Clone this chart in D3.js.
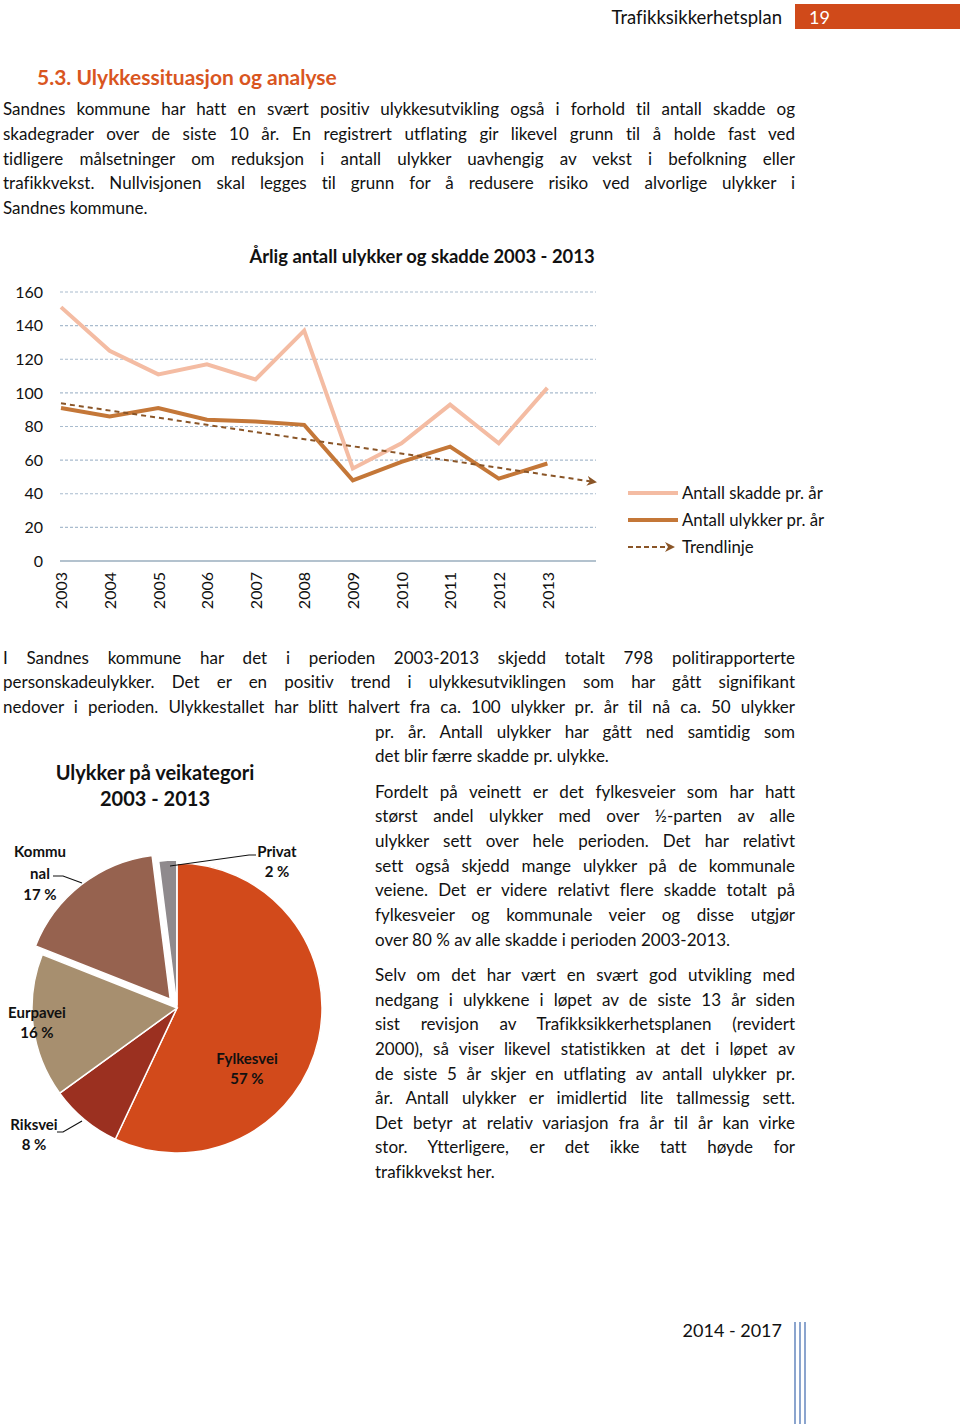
<!DOCTYPE html>
<html>
<head>
<meta charset="utf-8">
<script src="https://cdn.jsdelivr.net/npm/d3@7"></script>
<style>
  html, body { margin: 0; padding: 0; background: #fff; }
  body { width: 960px; height: 1424px; position: relative; overflow: hidden; font-family: "Lato", "Open Sans", sans-serif; color: #111; font-variant-ligatures: none; }
  svg { position: absolute; left: 0; top: 0; font-variant-ligatures: none; }
  .line { position: absolute; white-space: nowrap; font-size: 17px; height: 25px; line-height: 25px; text-align: justify; text-align-last: justify; }
  .line.last { text-align: left; text-align-last: left; }
</style>
</head>
<body>
<svg id="page" width="960" height="1424"></svg>
<script>
// ---------- data ----------
const years = [2003, 2004, 2005, 2006, 2007, 2008, 2009, 2010, 2011, 2012, 2013];
const skadde = [151, 125, 111, 117, 108, 137, 55, 70, 93, 70, 103];
const ulykker = [91, 86, 91, 84, 83, 81, 48, 59, 68, 49, 58];
const yTicks = [0, 20, 40, 60, 80, 100, 120, 140, 160];
const lineSeriesNames = ["Antall skadde pr. år", "Antall ulykker pr. år", "Trendlinje"];

const pieCategories = ["Fylkesvei", "Riksvei", "Eurpavei", "Kommunal", "Privat"];
const pieValues = [57, 8, 16, 17, 2];

// ---------- text ----------
const para1 = [
  "Sandnes kommune har hatt en svært positiv ulykkesutvikling også i forhold til antall skadde og",
  "skadegrader over de siste 10 år. En registrert utflating gir likevel grunn til å holde fast ved",
  "tidligere målsetninger om reduksjon i antall ulykker uavhengig av vekst i befolkning eller",
  "trafikkvekst. Nullvisjonen skal legges til grunn for å redusere risiko ved alvorlige ulykker i",
  "Sandnes kommune."
];
const para2full = [
  "I Sandnes kommune har det i perioden 2003-2013 skjedd totalt 798 politirapporterte",
  "personskadeulykker. Det er en positiv trend i ulykkesutviklingen som har gått signifikant",
  "nedover i perioden. Ulykkestallet har blitt halvert fra ca. 100 ulykker pr. år til nå ca. 50 ulykker"
];
const para2col = [
  "pr. år.  Antall ulykker har gått ned samtidig som",
  "det blir færre skadde pr. ulykke."
];
const para3 = [
  "Fordelt på veinett er det fylkesveier som har hatt",
  "størst andel ulykker med over ½-parten av alle",
  "ulykker sett over hele perioden. Det har relativt",
  "sett også skjedd mange ulykker på de kommunale",
  "veiene. Det er videre relativt flere skadde totalt på",
  "fylkesveier og kommunale veier og disse utgjør",
  "over 80 % av alle skadde i perioden 2003-2013."
];
const para4 = [
  "Selv om det har vært en svært god utvikling med",
  "nedgang i ulykkene i løpet av de siste 13 år siden",
  "sist revisjon av Trafikksikkerhetsplanen (revidert",
  "2000), så viser likevel statistikken at det i løpet av",
  "de siste 5 år skjer en utflating av antall ulykker pr.",
  "år. Antall ulykker er imidlertid lite tallmessig sett.",
  "Det betyr at relativ variasjon fra år til år kan virke",
  "stor. Ytterligere, er det ikke tatt høyde for",
  "trafikkvekst her."
];

function addLines(lines, left, right, centers, lastIsLeft) {
  lines.forEach((t, i) => {
    const d = d3.select("body").append("div")
      .attr("class", "line" + (lastIsLeft && i === lines.length - 1 ? " last" : ""))
      .style("left", left + "px")
      .style("top", (centers[i] - 12.5) + "px")
      .style("width", (right - left) + "px")
      .text(t);
    const probe = d3.select("body").append("span").style("font-size", "17px").style("white-space", "nowrap")
      .style("position", "absolute").style("visibility", "hidden").text(t);
    const w = probe.node().getBoundingClientRect().width;
    probe.remove();
    if (w > right - left) {
      const ls = (right - left - w) / t.length;
      d.style("letter-spacing", ls + "px");
    }
  });
}
addLines(para1, 3, 795, [108, 133, 158, 182, 207], true);
addLines(para2full, 3, 795, [657, 681, 706], false);
addLines(para2col, 375, 795, [731, 755], true);
addLines(para3, 375, 795, [791, 815, 840, 865, 889, 914, 939], true);
addLines(para4, 375, 795, [974, 999, 1023, 1048, 1073, 1097, 1122, 1146, 1171], true);

const svg = d3.select("#page");

// ---------- header ----------
svg.append("text").attr("x", 782).attr("y", 24).attr("text-anchor", "end")
  .attr("font-size", 18.5).attr("fill", "#111").text("Trafikksikkerhetsplan");
svg.append("rect").attr("x", 795).attr("y", 4).attr("width", 165).attr("height", 25).attr("fill", "#D04A1A");
svg.append("text").attr("x", 809).attr("y", 24).attr("font-size", 18).attr("fill", "#fff").text("19");

svg.append("text").attr("x", 37).attr("y", 85).attr("font-size", 21).attr("font-weight", "bold")
  .attr("fill", "#D9561F").text("5.3. Ulykkessituasjon og analyse");

// ---------- line chart ----------
const x = d3.scaleLinear().domain([2003, 2014]).range([61, 596]);
const y = d3.scaleLinear().domain([0, 160]).range([561, 292]);

const lc = svg.append("g");
lc.append("text").attr("x", 422).attr("y", 263).attr("text-anchor", "middle")
  .attr("font-size", 18.4).attr("font-weight", "bold").attr("fill", "#111")
  .text("Årlig antall ulykker og skadde 2003 - 2013");

// gridlines
lc.selectAll(".grid").data(yTicks.filter(v => v > 0)).join("line")
  .attr("x1", 60).attr("x2", 596).attr("y1", d => y(d)).attr("y2", d => y(d))
  .attr("stroke", "#A9BCCE").attr("stroke-width", 1.2).attr("stroke-dasharray", "3,2");
lc.append("line").attr("x1", 60).attr("x2", 596).attr("y1", y(0)).attr("y2", y(0))
  .attr("stroke", "#B3C2CE").attr("stroke-width", 2);

// y axis
const yAxis = d3.axisLeft(y).tickValues(yTicks).tickSize(0).tickPadding(0);
const yg = lc.append("g").attr("transform", "translate(43,0)").call(yAxis);
yg.select(".domain").remove();
yg.selectAll("text").attr("font-size", 16).attr("font-family", "Lato, sans-serif").attr("fill", "#111");

// x axis labels (rotated)
const xAxis = d3.axisBottom(x).tickValues(years).tickFormat(d3.format("d")).tickSize(0).tickPadding(0);
const xg = lc.append("g").attr("transform", "translate(0,572)").call(xAxis);
xg.select(".domain").remove();
xg.selectAll(".tick text").attr("font-size", 16).attr("font-family", "Lato, sans-serif").attr("fill", "#111")
  .attr("transform", "rotate(-90)").attr("text-anchor", "end").attr("x", 0).attr("y", 0).attr("dx", 0).attr("dy", "0.36em");

const line = d3.line().x((d, i) => x(years[i])).y(d => y(d));
lc.append("path").datum(skadde).attr("d", line).attr("fill", "none")
  .attr("stroke", "#F4BCA3").attr("stroke-width", 4).attr("stroke-linejoin", "miter");
lc.append("path").datum(ulykker).attr("d", line).attr("fill", "none")
  .attr("stroke", "#C47738").attr("stroke-width", 4).attr("stroke-linejoin", "miter");

// linear trend from ulykker
const mx = d3.mean(years), my = d3.mean(ulykker);
const slope = d3.sum(years, (v, i) => (v - mx) * (ulykker[i] - my)) / d3.sum(years, v => (v - mx) ** 2);
const intercept = my - slope * mx;
const trendYears = [2003, 2014];
const defs = svg.append("defs");
defs.append("marker").attr("id", "arr").attr("viewBox", "0 0 10 10").attr("refX", 7).attr("refY", 5)
  .attr("markerWidth", 5).attr("markerHeight", 5).attr("orient", "auto").attr("markerUnits", "strokeWidth")
  .append("path").attr("d", "M0,0 L10,5 L0,10 L3,5 Z").attr("fill", "#8A5527");
lc.append("path").datum(trendYears)
  .attr("d", d3.line().x(d => x(d) - (d === 2014 ? 2 : 0)).y(d => y(intercept + slope * d)))
  .attr("fill", "none").attr("stroke", "#8A5527").attr("stroke-width", 2)
  .attr("stroke-dasharray", "5,4").attr("marker-end", "url(#arr)");

// legend
const lg = svg.append("g");
const legStyles = [
  { color: "#F4BCA3", w: 4, dash: null },
  { color: "#C47738", w: 4, dash: null },
  { color: "#8A5527", w: 2, dash: "5,3" }
];
lineSeriesNames.forEach((name, i) => {
  const yy = 493 + i * 27;
  const l = lg.append("line").attr("x1", 628).attr("x2", i === 2 ? 672 : 678).attr("y1", yy).attr("y2", yy)
    .attr("stroke", legStyles[i].color).attr("stroke-width", legStyles[i].w);
  if (legStyles[i].dash) l.attr("stroke-dasharray", legStyles[i].dash).attr("marker-end", "url(#arr)");
  lg.append("text").attr("x", 682).attr("y", yy + 6).attr("font-size", 16.8).attr("fill", "#111").text(name);
});

// ---------- pie ----------
const pc = svg.append("g");
pc.append("text").attr("x", 155).attr("y", 780).attr("text-anchor", "middle").attr("font-size", 20)
  .attr("font-weight", "bold").attr("fill", "#111").text("Ulykker på veikategori");
pc.append("text").attr("x", 155).attr("y", 806).attr("text-anchor", "middle").attr("font-size", 20)
  .attr("font-weight", "bold").attr("fill", "#111").text("2003 - 2013");

const pieColors = ["#D24A1B", "#9B3020", "#A78F6F", "#96624F", "#8F8A8D"];
const explode = [0, 0, 0, 11, 3];
const cx = 177, cy = 1008, R = 145;
const arcs = d3.pie().sort(null).value(d => d)(pieValues);
const arcGen = d3.arc().innerRadius(0).outerRadius(R);
pc.selectAll(".slice").data(arcs).join("path")
  .attr("d", arcGen)
  .attr("transform", (d, i) => {
    const a = (d.startAngle + d.endAngle) / 2;
    return `translate(${cx + Math.sin(a) * explode[i]},${cy - Math.cos(a) * explode[i]})`;
  })
  .attr("fill", (d, i) => pieColors[i]).attr("stroke", "#fff").attr("stroke-width", 1.5);

// labels
const labelSpec = [
  { lines: ["Fylkesvei", "57 %"], x: 247, y: [1064, 1084] },
  { lines: ["Riksvei", "8 %"], x: 34, y: [1130, 1150] },
  { lines: ["Eurpavei", "16 %"], x: 37, y: [1018, 1038] },
  { lines: ["Kommu", "nal", "17 %"], x: 40, y: [857, 879, 900] },
  { lines: ["Privat", "2 %"], x: 277, y: [857, 877] }
];
labelSpec.forEach(s => {
  s.lines.forEach((t, j) => {
    pc.append("text").attr("x", s.x).attr("y", s.y[j]).attr("text-anchor", "middle")
      .attr("font-size", 15).attr("font-weight", "bold").attr("fill", "#111").text(t);
  });
});
const leaders = [
  [[53, 876], [63, 876], [82, 883]],
  [[256, 855], [249, 855], [170, 866]],
  [[57, 1132], [63, 1132], [82, 1121]]
];
leaders.forEach(p => pc.append("path").attr("d", d3.line()(p)).attr("fill", "none")
  .attr("stroke", "#111").attr("stroke-width", 1.2));

// ---------- footer ----------
svg.append("text").attr("x", 782).attr("y", 1337).attr("text-anchor", "end").attr("font-size", 18)
  .attr("fill", "#111").text("2014 - 2017");
[795, 800, 805].forEach(xx => svg.append("line").attr("x1", xx).attr("x2", xx).attr("y1", 1322).attr("y2", 1424)
  .attr("stroke", "#6E8EC2").attr("stroke-width", 1.6));
</script>
</body>
</html>
